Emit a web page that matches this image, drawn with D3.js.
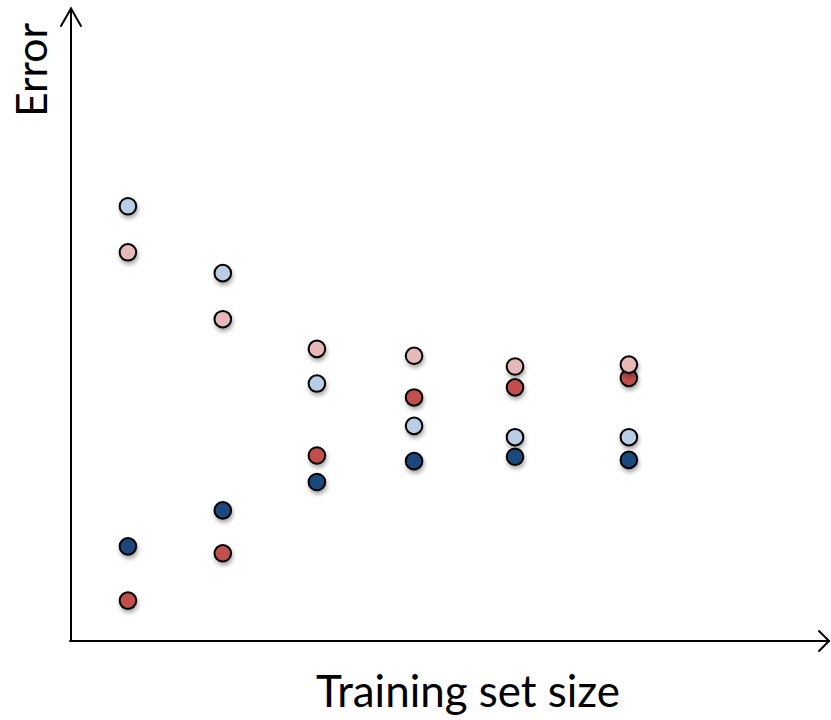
<!DOCTYPE html>
<html><head><meta charset="utf-8">
<script src="https://cdn.jsdelivr.net/npm/d3@7"></script>
<style>html,body{margin:0;padding:0;background:#fff;}svg{display:block;}</style>
</head><body>
<script>
// Data (arbitrary units: x = training set size position, y = error)
const sizes = [7.5, 20.0, 32.4, 45.2, 58.5, 73.5];
const lightBlue = [68.9, 58.3, 40.8, 34.1, 32.3, 32.3];
const lightPink = [61.6, 51.0, 46.3, 45.2, 43.5, 43.8];
const darkRed   = [6.4, 13.9, 29.4, 38.6, 40.2, 41.7];
const darkBlue  = [15.0, 20.7, 25.2, 28.5, 29.2, 28.7];
const seriesNames = ["darkRed", "darkBlue", "lightPink", "lightBlue"];
const xLabel = "Training set size";
const yLabel = "Error";

const W = 831, H = 720;
const svg = d3.select("body").append("svg").attr("width", W).attr("height", H);

const x = d3.scaleLinear().domain([0, 100]).range([71, 830]);
const y = d3.scaleLinear().domain([0, 100]).range([641, 10]);

const defs = svg.append("defs");
const f = defs.append("filter").attr("id", "sh").attr("x", "-50%").attr("y", "-50%").attr("width", "200%").attr("height", "200%");
f.append("feDropShadow").attr("dx", 1).attr("dy", 3).attr("stdDeviation", 2).attr("flood-color", "#000").attr("flood-opacity", 0.35);

// Axes
const ax = svg.append("g").attr("stroke", "#000").attr("stroke-width", 2).attr("fill", "none").attr("stroke-linecap", "round");
ax.append("line").attr("x1", x(0)).attr("y1", y(0)).attr("x2", x(0)).attr("y2", y(100) - 1.5);
ax.append("polyline").attr("points", [[x(0) - 10, y(100) + 16], [x(0), y(100) - 1.5], [x(0) + 10, y(100) + 16]].map(p => p.join(",")).join(" "));
ax.append("line").attr("x1", x(0) - 1).attr("y1", y(0)).attr("x2", x(100) - 1).attr("y2", y(0));
ax.append("polyline").attr("points", [[x(100) - 11, y(0) - 10], [x(100) - 1, y(0)], [x(100) - 11, y(0) + 10]].map(p => p.join(",")).join(" "));

// Points
const colors = { lightBlue: "#b9cde5", lightPink: "#e6b9b8", darkRed: "#c0504d", darkBlue: "#1f497d" };
const vals = { lightBlue, lightPink, darkRed, darkBlue };
const pts = [];
seriesNames.forEach(s => sizes.forEach((sx, i) => pts.push({ s, x: sx, y: vals[s][i] })));
svg.append("g").selectAll("circle").data(pts).join("circle")
  .attr("cx", d => x(d.x)).attr("cy", d => y(d.y)).attr("r", 8.3)
  .attr("fill", d => colors[d.s]).attr("stroke", "#000").attr("stroke-width", 2)
  .attr("filter", "url(#sh)");

// Labels
const font = "Lato, 'Open Sans', sans-serif";
const xl = svg.append("text").attr("x", 468).attr("y", 707).attr("text-anchor", "middle")
  .attr("font-family", font).attr("font-size", 38).attr("fill", "#000").text(xLabel);
const w1 = xl.node().getComputedTextLength();
xl.attr("font-size", 38 * 304 / w1);
const yl = svg.append("text").attr("transform", "translate(47,70) rotate(-90)").attr("text-anchor", "middle")
  .attr("font-family", font).attr("font-size", 38).attr("fill", "#000").text(yLabel);
const w2 = yl.node().getComputedTextLength();
yl.attr("font-size", 38 * 94 / w2);
</script>
</body></html>
